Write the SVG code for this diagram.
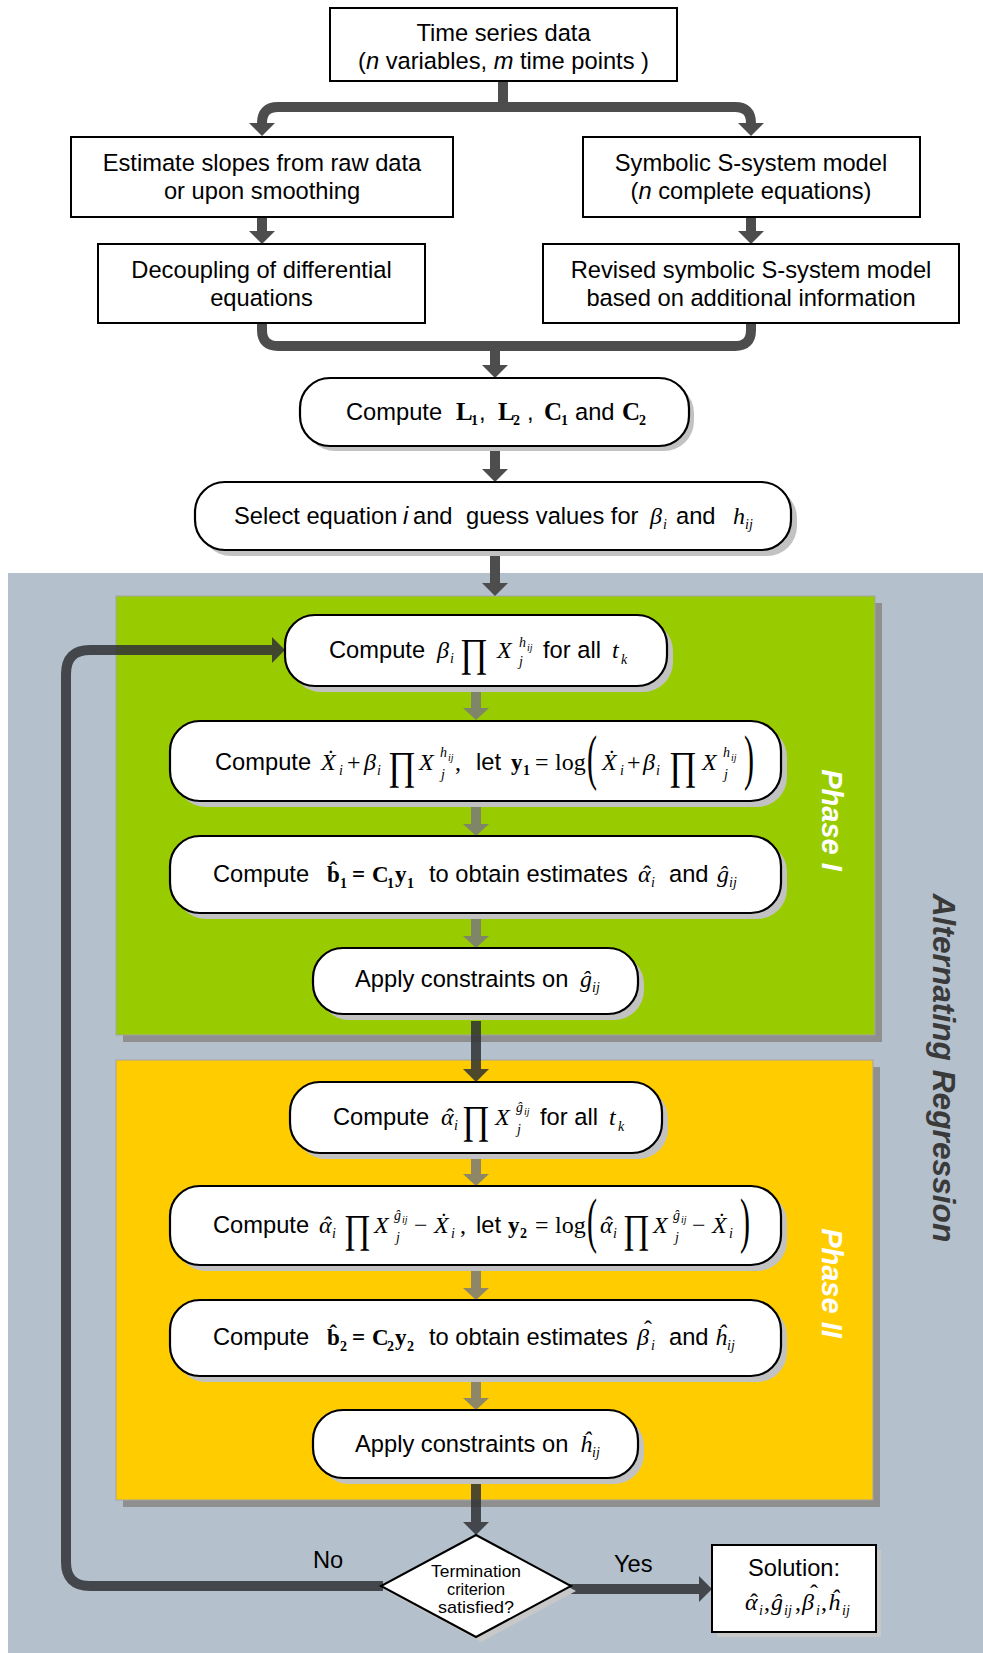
<svg xmlns="http://www.w3.org/2000/svg" width="983" height="1653" viewBox="0 0 983 1653">
<style>
.box{fill:#fff;stroke:#000;stroke-width:2}
.rbox{fill:#fff;stroke:#000;stroke-width:2.2}
.sh{fill:#c2c2c2}
.t{font-family:"Liberation Sans",Arial,sans-serif;font-size:23.7px;fill:#000}
.c{text-anchor:middle}
.it{font-style:italic}
.mi{font-family:"Liberation Serif","Times New Roman",serif;font-style:italic;font-size:24px}
.mr{font-family:"Liberation Serif","Times New Roman",serif;font-style:normal;font-size:24px}
.mb{font-family:"Liberation Serif","Times New Roman",serif;font-weight:bold;font-style:normal;font-size:23px}
.lg{font-size:25px}
.sb{font-size:14px}
.ss{font-size:10px}
.hat{font-family:"Liberation Serif","Times New Roman",serif;font-size:24px;text-anchor:middle}
.pr{font-family:"Liberation Serif","Times New Roman",serif;font-size:40px}
.big{font-family:"Liberation Serif","Times New Roman",serif;font-size:62px}
.conn{fill:none;stroke:#4d4d4d;stroke-width:10}
.dk{fill:none;stroke:#303236;stroke-width:10}
.gr{fill:none;stroke:#7a7a7a;stroke-width:10}
.ph{font-family:"Liberation Sans",Arial,sans-serif;font-weight:bold;font-style:italic;font-size:29px;fill:#fff;text-anchor:middle}
.dt{font-family:"Liberation Sans",Arial,sans-serif;font-size:17px;text-anchor:middle}
</style>
<defs>
<marker id="ad" markerUnits="userSpaceOnUse" viewBox="0 0 13 26" markerWidth="13" markerHeight="26" refX="0" refY="13" orient="auto"><path d="M0,0 L13,13 L0,26z" fill="#4d4d4d"/></marker>
<marker id="ak" markerUnits="userSpaceOnUse" viewBox="0 0 13 26" markerWidth="13" markerHeight="26" refX="0" refY="13" orient="auto"><path d="M0,0 L13,13 L0,26z" fill="#303236"/></marker>
<marker id="ag" markerUnits="userSpaceOnUse" viewBox="0 0 12 26" markerWidth="12" markerHeight="26" refX="0" refY="13" orient="auto"><path d="M0,0 L12,13 L0,26z" fill="#7a7a7a"/></marker>
</defs>
<rect x="0" y="0" width="983" height="1653" fill="#fff"/>
<g id="panels">
<rect x="8" y="573" width="975" height="1080" fill="#b4c0cc"/>
<rect x="123" y="603" width="759" height="439" fill="#8f8f8f"/>
<rect x="116" y="596" width="759" height="439" fill="#99cc00" stroke="#a3a3a3" stroke-width="1"/>
<rect x="123" y="1067" width="757" height="440" fill="#8f8f8f"/>
<rect x="116" y="1060" width="757" height="440" fill="#ffcc00" stroke="#a3a3a3" stroke-width="1"/>
<text class="ph" transform="translate(822,820) rotate(90)">Phase I</text>
<text class="ph" transform="translate(822,1283) rotate(90)">Phase II</text>
<text transform="translate(933,1068) rotate(90)" text-anchor="middle" font-family="Liberation Sans, Arial, sans-serif" font-weight="bold" font-style="italic" font-size="31.7" fill="#3a3a3a">Alternating Regression</text>
</g>
<g id="connectors">
<path class="conn" d="M503,80 V107"/>
<path class="conn" d="M503,107 H278 Q262,107 262,123" marker-end="url(#ad)"/>
<path class="conn" d="M503,107 H735 Q751,107 751,123" marker-end="url(#ad)"/>
<path class="conn" d="M262,217 V231" marker-end="url(#ad)"/>
<path class="conn" d="M751,217 V231" marker-end="url(#ad)"/>
<path class="conn" d="M262,323 V330 Q262,346 278,346 H735 Q751,346 751,330 V323"/>
<path class="conn" d="M495,346 V365" marker-end="url(#ad)"/>
<path class="conn" d="M495,451 V469" marker-end="url(#ad)"/>
<path class="conn" d="M495,556 V583" marker-end="url(#ad)"/>
<g opacity="0.85">
<path class="gr" d="M476,692 V708" marker-end="url(#ag)"/>
<path class="gr" d="M476,807 V824" marker-end="url(#ag)"/>
<path class="gr" d="M476,919 V936" marker-end="url(#ag)"/>
<path class="gr" d="M476,1159 V1174" marker-end="url(#ag)"/>
<path class="gr" d="M476,1271 V1288" marker-end="url(#ag)"/>
<path class="gr" d="M476,1382 V1398" marker-end="url(#ag)"/>
</g>
<g opacity="0.85">
<path class="dk" d="M476,1021 V1069" marker-end="url(#ak)"/>
<path class="dk" d="M476,1484 V1522" marker-end="url(#ak)"/>
<path class="dk" d="M383,1586 H90 Q66,1586 66,1562 V674 Q66,650 90,650 H272" marker-end="url(#ak)"/>
<path class="dk" d="M569,1589 H699" marker-end="url(#ak)"/>
</g>
<text class="t" x="313" y="1568" font-size="20">No</text>
<text class="t" x="614" y="1572" font-size="20">Yes</text>
</g>
<g id="n-data">
<rect class="box" x="330" y="8" width="347" height="73"/>
<text class="t c" x="503.5" y="41">Time series data</text>
<text class="t c" x="503.5" y="69">(<tspan class="it">n</tspan> variables, <tspan class="it">m</tspan> time points )</text>
</g>
<g id="n-slopes">
<rect class="box" x="71" y="137" width="382" height="80"/>
<text class="t c" x="262" y="171">Estimate slopes from raw data</text>
<text class="t c" x="262" y="199">or upon smoothing</text>
</g>
<g id="n-symbolic">
<rect class="box" x="583" y="137" width="337" height="80"/>
<text class="t c" x="751" y="171">Symbolic S-system model</text>
<text class="t c" x="751" y="199">(<tspan class="it">n</tspan> complete equations)</text>
</g>
<g id="n-decouple">
<rect class="box" x="98" y="244" width="327" height="79"/>
<text class="t c" x="261.5" y="278">Decoupling of differential</text>
<text class="t c" x="261.5" y="306">equations</text>
</g>
<g id="n-revised">
<rect class="box" x="543" y="244" width="416" height="79"/>
<text class="t c" x="751" y="278">Revised symbolic S-system model</text>
<text class="t c" x="751" y="306">based on additional information</text>
</g>
<g id="n-computeL">
<rect class="sh" x="305" y="383" width="389" height="68" rx="30"/>
<rect class="rbox" x="300" y="378" width="389" height="68" rx="30"/>
<text class="t" y="420"><tspan x="346">Compute</tspan><tspan class="mb lg" x="456">L</tspan><tspan class="mb sb" x="471" y="425">1</tspan><tspan x="479" y="420">,</tspan><tspan class="mb lg" x="498">L</tspan><tspan class="mb sb" x="513" y="425">2</tspan><tspan x="527" y="420">,</tspan><tspan class="mb lg" x="544">C</tspan><tspan class="mb sb" x="561" y="425">1</tspan><tspan x="575" y="420">and</tspan><tspan class="mb lg" x="622">C</tspan><tspan class="mb sb" x="639" y="425">2</tspan></text>
</g>
<g id="n-select">
<rect class="sh" x="201" y="488" width="596" height="68" rx="30"/>
<rect class="rbox" x="195" y="482" width="596" height="68" rx="30"/>
<text class="t" y="524"><tspan x="234">Select equation</tspan><tspan class="it" x="403">i</tspan><tspan x="413">and</tspan><tspan x="466">guess values for</tspan><tspan class="mi" x="650">β</tspan><tspan class="mi sb" x="663" y="529">i</tspan><tspan x="676" y="524">and</tspan><tspan class="mi" x="733">h</tspan><tspan class="mi sb" x="745" y="529">ij</tspan></text>
</g>
<g id="n-p1">
<rect class="sh" x="291" y="621" width="382" height="71" rx="30"/>
<rect class="rbox" x="285" y="615" width="382" height="71" rx="30"/>
<text class="t" y="658"><tspan x="329">Compute</tspan><tspan class="mi" x="437">β</tspan><tspan class="mi sb" x="450" y="663">i</tspan><tspan class="mi sb" x="519" y="647">h</tspan><tspan class="mi ss" x="527" y="651">ij</tspan><tspan class="mi" x="497" y="658">X</tspan><tspan class="mi sb" x="519" y="666">j</tspan><tspan x="543" y="658">for all</tspan><tspan class="mi" x="612">t</tspan><tspan class="mi sb" x="621" y="664">k</tspan></text>
<text class="pr" x="460" y="666" textLength="28" lengthAdjust="spacingAndGlyphs">∏</text>
</g>
<g id="n-p2">
<rect class="sh" x="176" y="727" width="611" height="80" rx="30"/>
<rect class="rbox" x="170" y="721" width="611" height="80" rx="30"/>
<text class="t" y="770"><tspan x="215">Compute</tspan><tspan class="mi" x="321">Ẋ</tspan><tspan class="mi sb" x="339" y="775">i</tspan><tspan class="mr" x="347" y="770">+</tspan><tspan class="mi" x="364">β</tspan><tspan class="mi sb" x="377" y="775">i</tspan><tspan class="mi" x="419" y="770">X</tspan><tspan class="mi sb" x="440" y="757">h</tspan><tspan class="mi ss" x="448" y="761">ij</tspan><tspan class="mi sb" x="441" y="779">j</tspan><tspan class="mr" x="455" y="770">,</tspan><tspan x="476">let</tspan><tspan class="mb" x="511">y</tspan><tspan class="mb sb" x="523" y="775">1</tspan><tspan class="mr" x="535" y="770">=</tspan><tspan class="mr" x="555">log</tspan><tspan class="mi" x="602">Ẋ</tspan><tspan class="mi sb" x="620" y="775">i</tspan><tspan class="mr" x="627" y="770">+</tspan><tspan class="mi" x="643">β</tspan><tspan class="mi sb" x="656" y="775">i</tspan><tspan class="mi" x="702" y="770">X</tspan><tspan class="mi sb" x="723" y="757">h</tspan><tspan class="mi ss" x="731" y="761">ij</tspan><tspan class="mi sb" x="724" y="779">j</tspan></text>
<text class="pr" x="388" y="779" textLength="28" lengthAdjust="spacingAndGlyphs">∏</text>
<text class="pr" x="669" y="779" textLength="28" lengthAdjust="spacingAndGlyphs">∏</text>
<text class="big" x="587" y="778" textLength="10" lengthAdjust="spacingAndGlyphs">(</text>
<text class="big" x="744" y="778" textLength="10" lengthAdjust="spacingAndGlyphs">)</text>
</g>
<g id="n-p3">
<rect class="sh" x="176" y="842" width="611" height="77" rx="30"/>
<rect class="rbox" x="170" y="836" width="611" height="77" rx="30"/>
<text class="t" y="882"><tspan x="213">Compute</tspan><tspan class="mb" x="327">b̂</tspan><tspan class="mb sb" x="340" y="888">1</tspan><tspan class="mb" x="352" y="882">=</tspan><tspan class="mb" x="372">C</tspan><tspan class="mb sb" x="387" y="888">1</tspan><tspan class="mb" x="395" y="882">y</tspan><tspan class="mb sb" x="407" y="888">1</tspan><tspan x="429" y="882">to obtain estimates</tspan><tspan class="mi" x="638">α</tspan><tspan class="mi sb" x="651" y="887">i</tspan><tspan x="669" y="882">and</tspan><tspan class="mi" x="717">ĝ</tspan><tspan class="mi sb" x="729" y="887">ij</tspan></text>
<text class="hat" x="647" y="882">ˆ</text>
</g>
<g id="n-p4">
<rect class="sh" x="319" y="954" width="325" height="66" rx="30"/>
<rect class="rbox" x="313" y="948" width="325" height="66" rx="30"/>
<text class="t" y="987"><tspan x="355">Apply constraints on</tspan><tspan class="mi" x="580">ĝ</tspan><tspan class="mi sb" x="592" y="992">ij</tspan></text>
</g>
<g id="n-p5">
<rect class="sh" x="296" y="1088" width="372" height="71" rx="30"/>
<rect class="rbox" x="290" y="1082" width="372" height="71" rx="30"/>
<text class="t" y="1125"><tspan x="333">Compute</tspan><tspan class="mi" x="441">α</tspan><tspan class="mi sb" x="454" y="1130">i</tspan><tspan class="mi" x="495" y="1125">X</tspan><tspan class="mi sb" x="516" y="1112">ĝ</tspan><tspan class="mi ss" x="524" y="1115">ij</tspan><tspan class="mi sb" x="517" y="1134">j</tspan><tspan x="540" y="1125">for all</tspan><tspan class="mi" x="609">t</tspan><tspan class="mi sb" x="618" y="1131">k</tspan></text>
<text class="hat" x="450" y="1125">ˆ</text>
<text class="pr" x="462" y="1133" textLength="28" lengthAdjust="spacingAndGlyphs">∏</text>
</g>
<g id="n-p6">
<rect class="sh" x="176" y="1192" width="611" height="79" rx="30"/>
<rect class="rbox" x="170" y="1186" width="611" height="79" rx="30"/>
<text class="t" y="1233"><tspan x="213">Compute</tspan><tspan class="mi" x="319">α</tspan><tspan class="mi sb" x="332" y="1238">i</tspan><tspan class="mi" x="374" y="1233">X</tspan><tspan class="mi sb" x="394" y="1220">ĝ</tspan><tspan class="mi ss" x="402" y="1223">ij</tspan><tspan class="mi sb" x="396" y="1242">j</tspan><tspan class="mr" x="414" y="1233">−</tspan><tspan class="mi" x="434">Ẋ</tspan><tspan class="mi sb" x="451" y="1238">i</tspan><tspan class="mr" x="460" y="1233">,</tspan><tspan x="476">let</tspan><tspan class="mb" x="508">y</tspan><tspan class="mb sb" x="520" y="1238">2</tspan><tspan class="mr" x="535" y="1233">=</tspan><tspan class="mr" x="555">log</tspan><tspan class="mi" x="600">α</tspan><tspan class="mi sb" x="613" y="1238">i</tspan><tspan class="mi" x="653" y="1233">X</tspan><tspan class="mi sb" x="673" y="1220">ĝ</tspan><tspan class="mi ss" x="681" y="1223">ij</tspan><tspan class="mi sb" x="675" y="1242">j</tspan><tspan class="mr" x="692" y="1233">−</tspan><tspan class="mi" x="712">Ẋ</tspan><tspan class="mi sb" x="729" y="1238">i</tspan></text>
<text class="hat" x="328" y="1233">ˆ</text>
<text class="hat" x="609" y="1233">ˆ</text>
<text class="pr" x="344" y="1242" textLength="27" lengthAdjust="spacingAndGlyphs">∏</text>
<text class="pr" x="623" y="1242" textLength="27" lengthAdjust="spacingAndGlyphs">∏</text>
<text class="big" x="587" y="1241" textLength="10" lengthAdjust="spacingAndGlyphs">(</text>
<text class="big" x="740" y="1241" textLength="10" lengthAdjust="spacingAndGlyphs">)</text>
</g>
<g id="n-p7">
<rect class="sh" x="176" y="1306" width="611" height="76" rx="30"/>
<rect class="rbox" x="170" y="1300" width="611" height="76" rx="30"/>
<text class="t" y="1345"><tspan x="213">Compute</tspan><tspan class="mb" x="327">b̂</tspan><tspan class="mb sb" x="340" y="1351">2</tspan><tspan class="mb" x="352" y="1345">=</tspan><tspan class="mb" x="372">C</tspan><tspan class="mb sb" x="387" y="1351">2</tspan><tspan class="mb" x="395" y="1345">y</tspan><tspan class="mb sb" x="407" y="1351">2</tspan><tspan x="429" y="1345">to obtain estimates</tspan><tspan class="mi" x="637">β</tspan><tspan class="mi sb" x="651" y="1350">i</tspan><tspan x="669" y="1345">and</tspan><tspan class="mi" x="715">ĥ</tspan><tspan class="mi sb" x="727" y="1350">ij</tspan></text>
<text class="hat" x="648" y="1337">ˆ</text>
</g>
<g id="n-p8">
<rect class="sh" x="319" y="1416" width="325" height="68" rx="30"/>
<rect class="rbox" x="313" y="1410" width="325" height="68" rx="30"/>
<text class="t" y="1452"><tspan x="355">Apply constraints on</tspan><tspan class="mi" x="580">ĥ</tspan><tspan class="mi sb" x="592" y="1457">ij</tspan></text>
</g>
<g id="n-decision">
<polygon points="481,1540 576,1591 481,1642 386,1591" fill="#c8c8c8"/>
<polygon points="476,1535 571,1586 476,1637 381,1586" fill="#fff" stroke="#000" stroke-width="2"/>
<text class="dt" x="476" y="1577" textLength="90" lengthAdjust="spacingAndGlyphs">Termination</text>
<text class="dt" x="476" y="1595" textLength="58" lengthAdjust="spacingAndGlyphs">criterion</text>
<text class="dt" x="476" y="1613" textLength="76" lengthAdjust="spacingAndGlyphs">satisfied?</text>
</g>
<g id="n-solution">
<rect x="717" y="1550" width="164" height="87" fill="#c8c8c8"/>
<rect class="box" x="712" y="1545" width="164" height="87"/>
<text class="t c" x="794" y="1576" font-size="25">Solution:</text>
<text class="t" y="1610" font-size="26"><tspan class="mi" x="745" font-size="26">α</tspan><tspan class="mi sb" x="759" y="1615">i</tspan><tspan class="mr" x="764" y="1610" font-size="26">,</tspan><tspan class="mi" x="771" font-size="26">ĝ</tspan><tspan class="mi sb" x="784" y="1615">ij</tspan><tspan class="mr" x="795" y="1610" font-size="26">,</tspan><tspan class="mi" x="802" font-size="26">β</tspan><tspan class="mi sb" x="816" y="1615">i</tspan><tspan class="mr" x="821" y="1610" font-size="26">,</tspan><tspan class="mi" x="828" font-size="26">ĥ</tspan><tspan class="mi sb" x="842" y="1615">ij</tspan></text>
<text class="hat" x="754" y="1610" font-size="26">ˆ</text>
<text class="hat" x="814" y="1601" font-size="26">ˆ</text>
</g>
</svg>
